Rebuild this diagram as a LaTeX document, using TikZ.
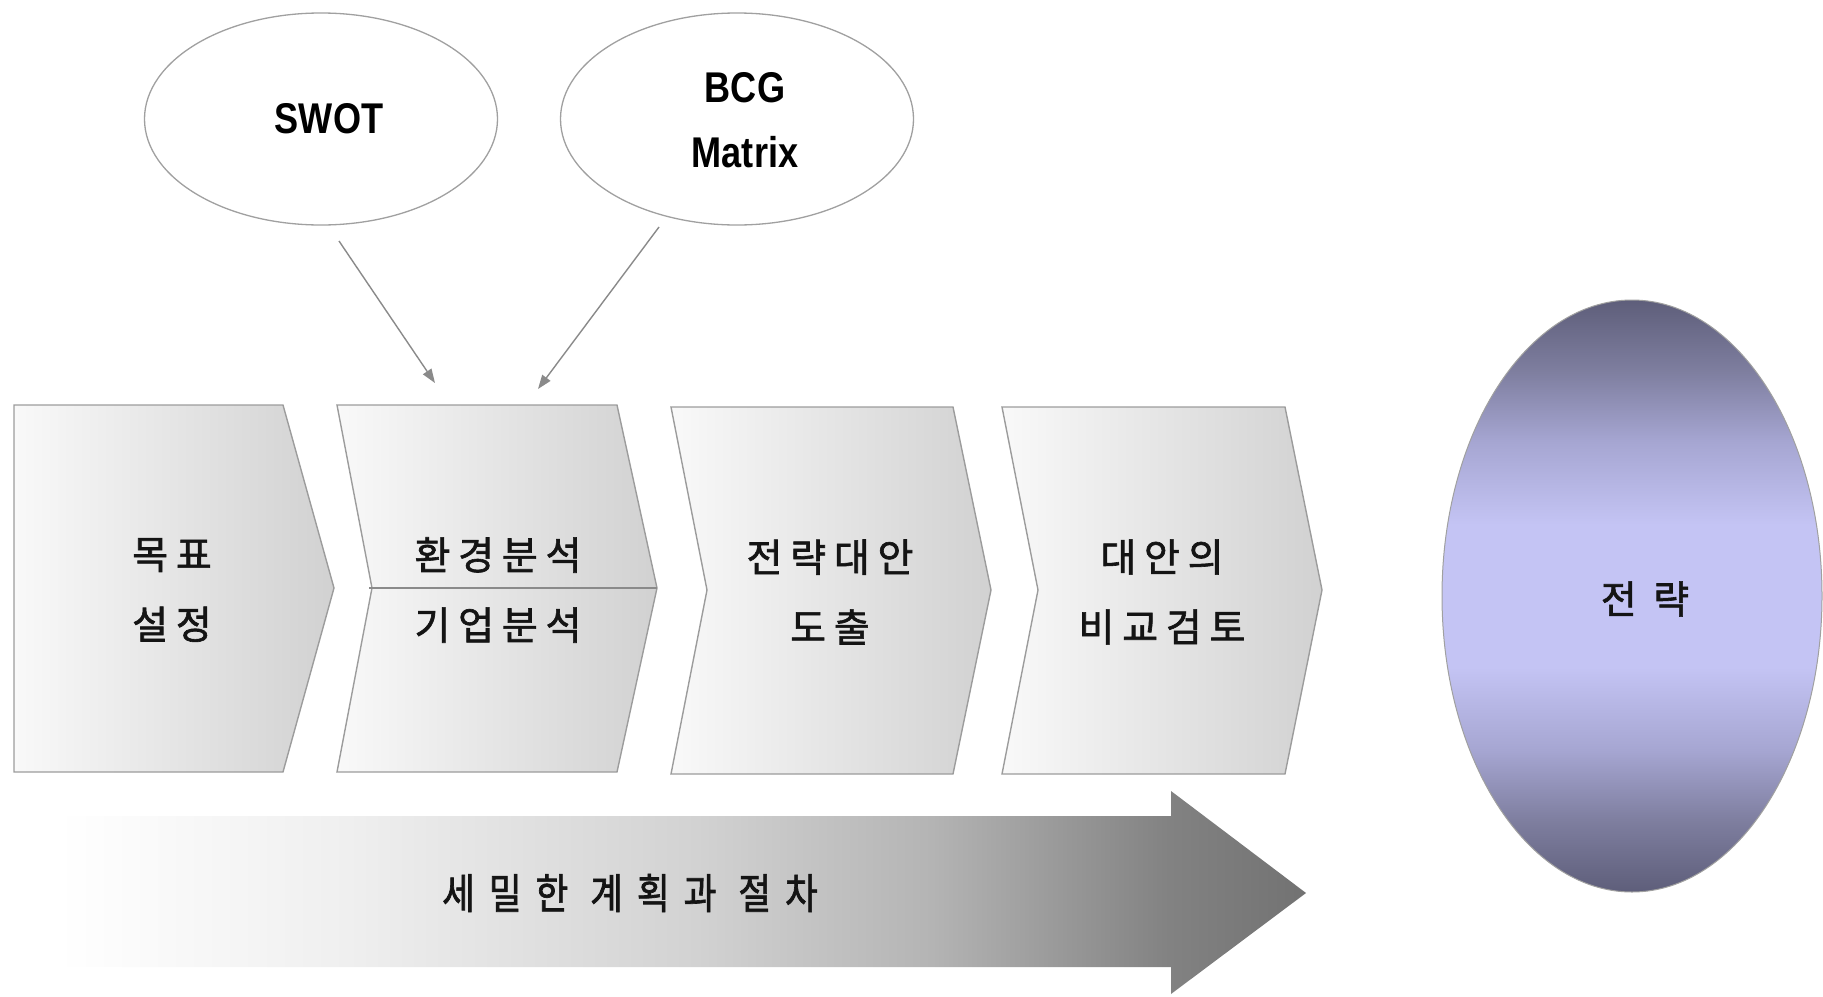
\documentclass[tikz,border=0pt]{standalone}
\usepackage{fontspec}
\setmainfont{Liberation Sans}
\newfontfamily\latinbold[FakeStretch=0.84]{Liberation Sans}
\newfontfamily\krfont[LetterSpace=20,FakeBold=1.6]{Noto Sans CJK KR}
\newfontfamily\krnarrow[LetterSpace=33,FakeStretch=0.85,FakeBold=1.6]{Noto Sans CJK KR}
\usetikzlibrary{shapes.geometric,arrows.meta}

% colours
\definecolor{chevline}{HTML}{9C9C9C}
\definecolor{chevl}{HTML}{F9F9F9}
\definecolor{chevr}{HTML}{D1D1D1}
\definecolor{ovalline}{HTML}{A0A0A0}
\definecolor{linkgray}{HTML}{8A8A8A}
\definecolor{txt}{HTML}{141414}
\definecolor{fa}{HTML}{EFEFEF}
\definecolor{fb}{HTML}{D2D2D2}
\definecolor{fc}{HTML}{B4B4B4}
\definecolor{fd}{HTML}{828282}
\definecolor{fe}{HTML}{727272}
\definecolor{sdark}{HTML}{5E5E7A}
\definecolor{smida}{HTML}{7E7E9F}
\definecolor{smidb}{HTML}{A6A6D2}
\definecolor{slight}{HTML}{C4C4F4}

% long process arrow: fades in from white towards a mid grey
\pgfdeclarehorizontalshading{flowshade}{100bp}{color(0bp)=(white); color(25bp)=(white);
  color(36.6bp)=(fa); color(50.6bp)=(fb); color(60bp)=(fc); color(69.5bp)=(fd);
  color(75bp)=(fe); color(100bp)=(fe)}
% strategy oval: dark at top and bottom, light lavender in the middle
\pgfdeclareverticalshading{stratshade}{100bp}{color(0bp)=(sdark); color(25bp)=(sdark);
  color(31bp)=(smida); color(37bp)=(smidb); color(44bp)=(slight); color(56bp)=(slight);
  color(63bp)=(smidb); color(69bp)=(smida); color(75bp)=(sdark); color(100bp)=(sdark)}

\tikzset{
  chev/.style={draw=chevline, line width=1.4pt, left color=chevl, right color=chevr},
  steplabel/.style={align=center, text=txt, inner sep=0pt,
    font=\krfont\fontsize{39}{70}\selectfont},
  tool/.style={ellipse, draw=ovalline, line width=1.3pt, fill=white,
    minimum width=353pt, minimum height=212pt, inner sep=0pt},
  toollabel/.style={align=center, text=black, inner sep=0pt,
    font=\latinbold\bfseries\fontsize{43}{65}\selectfont},
  link/.style={draw=linkgray, line width=1.4pt,
    -{Triangle[length=14pt,width=10pt,fill=linkgray]}},
}

\begin{document}
\begin{tikzpicture}[x=1pt,y=-1pt]
\useasboundingbox (0,0) rectangle (1823,996);

% analysis tools
\node[tool] (swot) at (321,119) {};
\node[toollabel] (swottxt) at (329,119) {SWOT};
\node[tool] (bcg) at (737,119) {};
\node[toollabel] (bcgtxt) at (745,120) {BCG\\Matrix};

% process chevrons
\path[chev] (14,405) -- (283,405) -- (334,588) -- (283,772) -- (14,772) -- cycle;
\path[chev] (337,405) -- (617,405) -- (657,588) -- (617,772) -- (337,772) -- (372,588) -- cycle;
\draw[draw=linkgray, line width=1.4pt] (369,588) -- (657,588);
\path[chev] (671,407) -- (953,407) -- (991,590) -- (953,774) -- (671,774) -- (707,590) -- cycle;
\path[chev] (1002,407) -- (1285,407) -- (1322,590) -- (1285,774) -- (1002,774) -- (1038,590) -- cycle;

\node[steplabel] (s1) at (172,590) {목표\\설정};
\node[steplabel] (s2) at (498,590) {환경분석\\기업분석};
\node[steplabel] (s3) at (830,592) {전략대안\\도출};
\node[steplabel] (s4) at (1162,592) {대안의\\비교검토};

% tools feed the environment / company analysis step
\coordinate (swotout) at (339,241);
\coordinate (swotin)  at (435,383);
\coordinate (bcgout)  at (659,227);
\coordinate (bcgin)   at (538,389);
\draw[link] (swotout) -- (swotin);
\draw[link] (bcgout) -- (bcgin);

% detailed planning and procedure arrow
\path[shading=flowshade] (58,816) -- (1171,816) -- (1171,791) -- (1306,893)
  -- (1171,994) -- (1171,967) -- (58,967) -- cycle;
\node[text=txt, inner sep=0pt, font=\krnarrow\fontsize{42}{44}\selectfont] (plan)
  at (630,893) {세밀한 계획과 절차};

% strategy
\node[ellipse, draw=ovalline, line width=1pt, shading=stratshade,
  minimum width=380pt, minimum height=592pt, inner sep=0pt] (strat) at (1632,596) {};
\node[text=txt, inner sep=0pt, font=\krfont\fontsize{39}{40}\selectfont] (strattxt)
  at (1645,599) {전 략};
\end{tikzpicture}
\end{document}
